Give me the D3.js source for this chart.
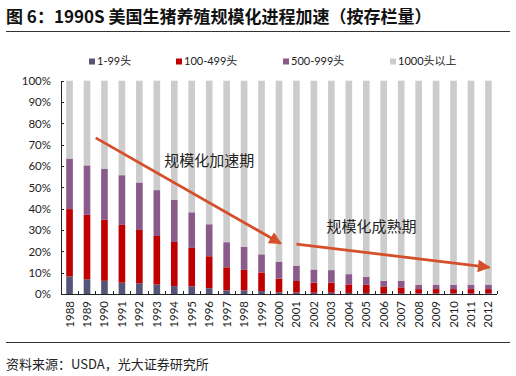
<!DOCTYPE html>
<html>
<head>
<meta charset="utf-8">
<script src="https://cdn.jsdelivr.net/npm/d3@7"></script>
<style>
  body { margin: 0; background: #fff; }
  text { font-family: Lato, "Noto Sans CJK SC", sans-serif; fill: #222; }
  .axis path, .axis line { stroke: #222; shape-rendering: crispEdges; }
</style>
</head>
<body>
<div id="viz"></div>
<script>
var years = ["1988","1989","1990","1991","1992","1993","1994","1995","1996","1997","1998","1999",
  "2000","2001","2002","2003","2004","2005","2006","2007","2008","2009","2010","2011","2012"];
var seriesNames = ["1-99头", "100-499头", "500-999头", "1000头以上"];
var colors = ["#55557a", "#c00000", "#8a5a8a", "#cccccc"];

// share of inventory by farm size (%)
var s1to99 = [8.2,6.9,6.2,5.3,5.0,4.5,3.7,3.6,2.7,1.7,1.7,1.4,0.8,0.7,0.6,0.6,0.5,0.5,0.4,0.4,0.3,0.3,0.3,0.3,0.3];
var s100to499 = [31.6,30.2,28.6,27.1,25.0,22.7,20.7,18.0,15.0,10.8,9.6,8.7,6.4,5.4,4.7,4.7,4.0,3.8,3.0,2.7,2.0,2.0,2.0,2.0,2.0];
var s500to999 = [23.7,23.2,23.8,23.3,22.3,21.5,19.8,16.7,15.0,11.8,10.8,8.5,8.0,7.2,6.2,5.9,4.8,3.7,2.8,3.1,2.1,2.1,2.1,2.1,2.1];
var s1000plus = [36.5,39.7,41.4,44.3,47.7,51.3,55.8,61.7,67.3,75.7,77.9,81.4,84.8,86.7,88.5,88.8,90.7,92.0,93.8,93.8,95.6,95.6,95.6,95.6,95.6];
var yTicks = [0,10,20,30,40,50,60,70,80,90,100];

// annotations: [year position, percent]
var arrow1 = [[1989.5, 73.2], [2000.1, 23.7]];
var arrow2 = [[2001.0, 23.4], [2012.05, 12.5]];
var notes = [{text: "规模化加速期", pos: [1996.0, 62.4]}, {text: "规模化成熟期", pos: [2005.3, 31.5]}];

var w = 516, h = 376;
var svg = d3.select("#viz").append("svg").attr("width", w).attr("height", h);

var x = d3.scaleBand().domain(years).range([61, 497]).paddingInner(0.62).paddingOuter(0.3);
var y = d3.scaleLinear().domain([0, 100]).range([294, 80.7]);

function xPos(v) {
  var base = Math.floor(v);
  return x(String(base)) + x.bandwidth() / 2 + (v - base) * x.step();
}

// title
svg.append("text").attr("x", 6).attr("y", 23)
  .style("font-family", "'Noto Sans CJK SC', sans-serif")
  .style("font-size", "17px").style("font-weight", "bold").style("fill", "#111")
  .text("图 6：1990S 美国生猪养殖规模化进程加速（按存栏量）");
svg.append("line").attr("x1", 6).attr("x2", 510).attr("y1", 31.5).attr("y2", 31.5)
  .style("stroke", "#333").style("stroke-width", 1.2);

// legend
var legX = [89, 176, 283, 390];
var leg = svg.selectAll("g.leg").data(seriesNames).enter().append("g")
  .attr("transform", (d, i) => "translate(" + legX[i] + ",61.5)");
leg.append("rect").attr("x", 0).attr("y", -3).attr("width", 6).attr("height", 6)
  .style("fill", (d, i) => colors[i]);
leg.append("text").attr("x", 8).attr("dy", "0.35em").style("font-size", "11px").text(d => d);

// stacked bars
var table = years.map((yr, i) => ({year: yr, a: s1to99[i], b: s100to499[i], c: s500to999[i], d: s1000plus[i]}));
var stack = d3.stack().keys(["a", "b", "c", "d"]);
var layers = stack(table);

svg.selectAll("g.layer").data(layers).enter().append("g")
  .attr("class", "layer")
  .style("fill", (d, i) => colors[i])
  .selectAll("rect").data(d => d).enter().append("rect")
  .attr("x", d => x(d.data.year))
  .attr("width", x.bandwidth())
  .attr("y", d => y(Math.min(d[1], 100)))
  .attr("height", d => y(d[0]) - y(Math.min(d[1], 100)));

// axes
var yAxis = svg.append("g").attr("class", "axis").attr("transform", "translate(61,0)")
  .call(d3.axisLeft(y).tickValues(yTicks).tickFormat(d => d + "%").tickSizeInner(-3).tickSizeOuter(0).tickPadding(10));
yAxis.selectAll("text").style("font-size", "11.5px");

var xAxis = svg.append("g").attr("class", "axis").attr("transform", "translate(0,294)");
xAxis.append("line").attr("x1", 61).attr("x2", 497).attr("y1", 0).attr("y2", 0);
xAxis.selectAll("line.tk").data(d3.range(years.length + 1)).enter().append("line")
  .attr("class", "tk")
  .attr("x1", i => 61 + i * x.step())
  .attr("x2", i => 61 + i * x.step())
  .attr("y1", 0).attr("y2", -3);
xAxis.selectAll("text").data(years).enter().append("text")
  .attr("transform", d => "translate(" + (x(d) + x.bandwidth() / 2) + ",7) rotate(-90)")
  .attr("text-anchor", "end").attr("dy", "0.35em")
  .style("font-size", "11.5px").text(d => d);

// annotation arrows
var arrowColor = "#d5502a";
svg.append("defs").append("marker")
  .attr("id", "head").attr("viewBox", "0 0 10 10").attr("refX", 9).attr("refY", 5)
  .attr("markerWidth", 5).attr("markerHeight", 4.5).attr("markerUnits", "strokeWidth")
  .attr("orient", "auto")
  .append("path").attr("d", "M0,0 L10,5 L0,10 z").style("fill", arrowColor);

[arrow1, arrow2].forEach(function(a) {
  svg.append("line")
    .attr("x1", xPos(a[0][0])).attr("y1", y(a[0][1]))
    .attr("x2", xPos(a[1][0])).attr("y2", y(a[1][1]))
    .style("stroke", arrowColor).style("stroke-width", 2.8)
    .attr("marker-end", "url(#head)");
});

svg.selectAll("text.note").data(notes).enter().append("text")
  .attr("class", "note")
  .attr("x", d => xPos(d.pos[0])).attr("y", d => y(d.pos[1]))
  .attr("text-anchor", "middle").attr("dy", "0.35em")
  .style("font-family", "'Noto Sans CJK SC', sans-serif")
  .style("font-size", "15px").text(d => d.text);

// source
svg.append("line").attr("x1", 6).attr("x2", 510).attr("y1", 342.5).attr("y2", 342.5)
  .style("stroke", "#333").style("stroke-width", 1.2);
svg.append("text").attr("x", 6).attr("y", 369)
  .style("font-family", "'Noto Sans CJK SC', sans-serif")
  .style("font-size", "13px").text("资料来源：USDA，光大证券研究所");
</script>
</body>
</html>
